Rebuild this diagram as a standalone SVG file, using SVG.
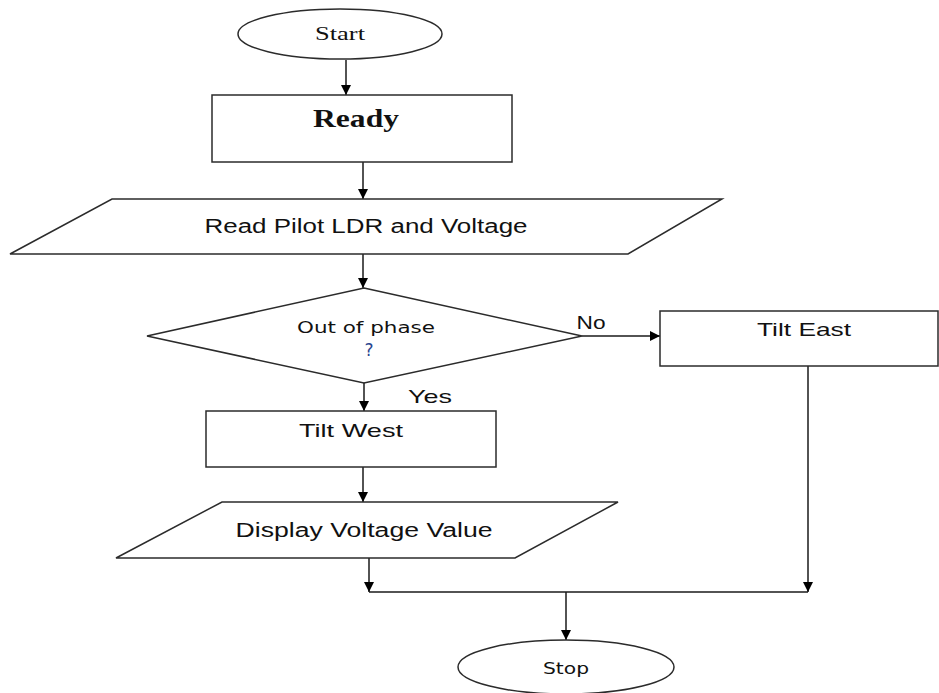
<svg xmlns="http://www.w3.org/2000/svg" width="939" height="693" viewBox="0 0 939 693">
<style>
.s{fill:#fff;stroke:#2b2b2b;stroke-width:1.5}
.c{fill:none;stroke:#1a1a1a;stroke-width:1.5}
.t{font-family:"Liberation Sans",Arial,sans-serif;fill:#111;text-anchor:middle}
.sr{font-family:"Liberation Serif","Times New Roman",serif;fill:#111;text-anchor:middle}
.v{font-family:"DejaVu Sans",Verdana,sans-serif;fill:#111;text-anchor:middle}
</style>
<defs>
<marker id="a" viewBox="0 0 10 10" refX="10" refY="5" markerWidth="10" markerHeight="10" markerUnits="userSpaceOnUse" orient="auto">
<path d="M0,0 L10,5 L0,10 Z" fill="#000"/>
</marker>
</defs>
<rect width="939" height="693" fill="#fff"/>
<g id="connectors">
<path class="c" d="M346,60 V95" marker-end="url(#a)"/>
<path class="c" d="M363,162 V199" marker-end="url(#a)"/>
<path class="c" d="M363,254 V288" marker-end="url(#a)"/>
<path class="c" d="M364,383 V411" marker-end="url(#a)"/>
<path class="c" d="M582,336 H660" marker-end="url(#a)"/>
<path class="c" d="M363,467 V502" marker-end="url(#a)"/>
<path class="c" d="M369,558 V592" marker-end="url(#a)"/>
<path class="c" d="M808,366 V592" marker-end="url(#a)"/>
<path class="c" d="M369,592 H808"/>
<path class="c" d="M566,592 V640" marker-end="url(#a)"/>
<text class="t" x="430" y="403" font-size="19" textLength="44" lengthAdjust="spacingAndGlyphs">Yes</text>
<text class="t" x="591" y="329" font-size="18" textLength="29" lengthAdjust="spacingAndGlyphs">No</text>
</g>
<g id="start">
<ellipse class="s" cx="340" cy="34" rx="102" ry="25"/>
<text class="sr" x="340" y="40" font-size="19" textLength="50" lengthAdjust="spacingAndGlyphs">Start</text>
</g>
<g id="ready">
<rect class="s" x="212" y="95" width="300" height="67"/>
<text class="sr" x="356" y="127" font-size="25" font-weight="bold" textLength="86" lengthAdjust="spacingAndGlyphs">Ready</text>
</g>
<g id="read">
<polygon class="s" points="112,199 722,199 628,254 10,254"/>
<text class="t" x="366" y="233" font-size="20" textLength="323" lengthAdjust="spacingAndGlyphs">Read Pilot LDR and Voltage</text>
</g>
<g id="decision">
<polygon class="s" points="364,288 582,336 364,383 147,336"/>
<text class="v" x="366" y="333" font-size="16" textLength="138" lengthAdjust="spacingAndGlyphs">Out of phase</text>
<text class="v" x="369" y="356" font-size="17" fill="#27408b" style="fill:#2a4690">?</text>
</g>
<g id="tiltwest">
<rect class="s" x="206" y="411" width="290" height="56"/>
<text class="t" x="351" y="437" font-size="19" textLength="104" lengthAdjust="spacingAndGlyphs">Tilt West</text>
</g>
<g id="tilteast">
<rect class="s" x="660" y="311" width="278" height="55"/>
<text class="t" x="804" y="336" font-size="19" textLength="94" lengthAdjust="spacingAndGlyphs">Tilt East</text>
</g>
<g id="display">
<polygon class="s" points="222,502 618,502 515,558 116,558"/>
<text class="t" x="364" y="537" font-size="20" textLength="257" lengthAdjust="spacingAndGlyphs">Display Voltage Value</text>
</g>
<g id="stop">
<ellipse class="s" cx="566" cy="667" rx="108" ry="27"/>
<text class="v" x="566" y="674" font-size="16" textLength="46" lengthAdjust="spacingAndGlyphs">Stop</text>
</g>
</svg>
